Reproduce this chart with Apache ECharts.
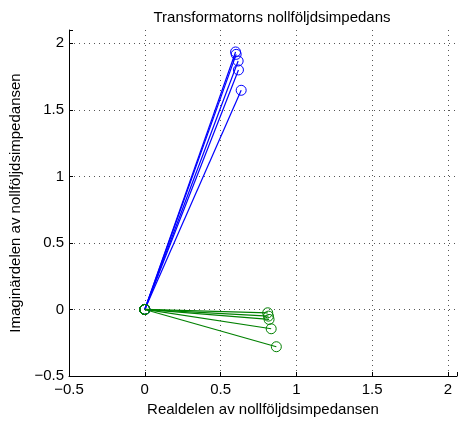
<!DOCTYPE html>
<html>
<head>
    <meta charset="utf-8"/>
    <title>Transformatorns nollföljdsimpedans</title>
    <script src="https://cdn.jsdelivr.net/npm/echarts@6/dist/echarts.min.js"></script>
    <style>
        body { margin: 0; background: #fff; }
        #main { width: 460px; height: 424px; }
    </style>
</head>
<body>
<div id="main"></div>
<script>
    // endpoints of each line (start is always origin)
    var blueRe = [0.599, 0.603, 0.616, 0.618, 0.636];
    var blueIm = [1.935, 1.917, 1.867, 1.800, 1.647];
    var greenRe = [0.811, 0.816, 0.820, 0.834, 0.868];
    var greenIm = [-0.025, -0.050, -0.075, -0.145, -0.280];
    var tickVals = [-0.5, 0, 0.5, 1, 1.5, 2];

    var font = 'Liberation Sans, Arial, sans-serif';

    function fmt(v) {
        var ok = tickVals.some(function (t) { return Math.abs(t - v) < 1e-6; });
        if (!ok) return '';
        return String(v).replace('-', '\u2212');
    }

    function makeSeries(re, im, color) {
        var out = [];
        for (var i = 0; i < re.length; i++) {
            out.push({
                type: 'line',
                data: [[0, 0], [re[i], im[i]]],
                symbol: 'circle',
                symbolSize: 10,
                showAllSymbol: true,
                lineStyle: { color: color, width: 1.2 },
                itemStyle: { color: 'rgba(0,0,0,0)', borderColor: color, borderWidth: 1 },
                emphasis: { disabled: true },
                animation: false,
                z: 3
            });
        }
        return out;
    }

    var axisCommon = {
        type: 'value',
        min: -0.5,
        interval: 0.5,
        nameLocation: 'middle',
        nameTextStyle: { fontFamily: font, fontSize: 15, color: '#000' },
        axisLine: { show: true, onZero: false, lineStyle: { color: '#000', width: 1 } },
        axisTick: { show: true, inside: true, length: 4, lineStyle: { color: '#000' } },
        axisLabel: { fontFamily: font, fontSize: 15, color: '#000', formatter: fmt, showMaxLabel: true },
        splitLine: { show: true, showMaxLine: false, lineStyle: { color: '#555', type: [1, 4], width: 1 } }
    };

    var chart = echarts.init(document.getElementById('main'));
    chart.setOption({
        backgroundColor: '#fff',
        title: {
            text: 'Transformatorns nollföljdsimpedans',
            left: 267,
            textAlign: 'center',
            top: 5,
            textStyle: { fontFamily: font, fontSize: 15, fontWeight: 'normal', color: '#000' }
        },
        grid: { left: 69, right: 2, top: 30, bottom: 48, containLabel: false },
        xAxis: Object.assign({}, axisCommon, {
            max: 2.06,
            name: 'Realdelen av nollföljdsimpedansen',
            nameGap: 23,
            axisLabel: Object.assign({}, axisCommon.axisLabel, { margin: 6 })
        }),
        yAxis: Object.assign({}, axisCommon, {
            max: 2.1,
            name: 'Imaginärdelen av nollföljdsimpedansen',
            nameGap: 35,
            axisLabel: Object.assign({}, axisCommon.axisLabel, { margin: 5 })
        }),
        series: makeSeries(blueRe, blueIm, '#0000ff').concat(makeSeries(greenRe, greenIm, '#008000'))
    });
</script>
</body>
</html>
